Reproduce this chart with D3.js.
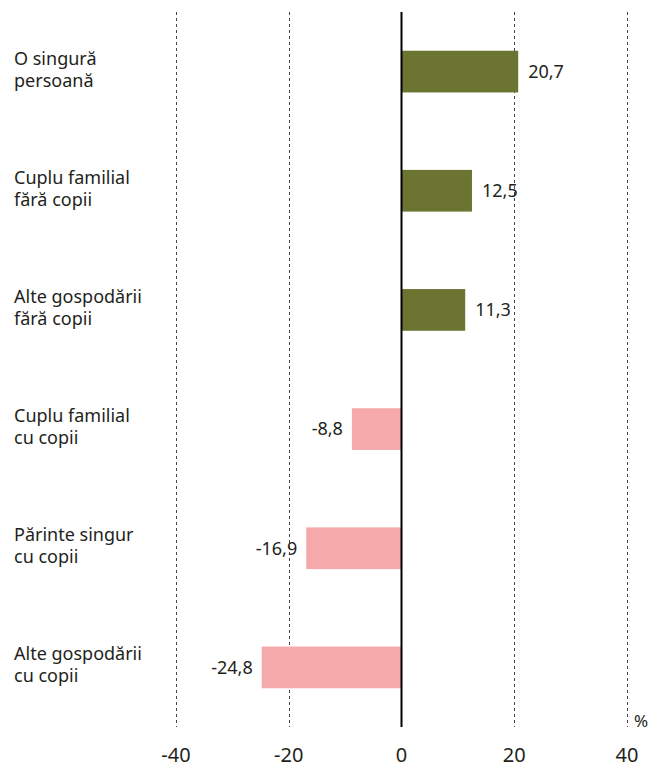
<!DOCTYPE html>
<html>
<head>
<meta charset="utf-8">
<script src="https://cdn.jsdelivr.net/npm/d3@7"></script>
<style>
  body { margin: 0; background: #fff; }
  text { font-family: "Noto Sans", "Open Sans", sans-serif; fill: #231f20; }
</style>
</head>
<body>
<div id="chart"></div>
<script>
// Chart data
const categories = [
  ["O singură", "persoană"],
  ["Cuplu familial", "fără copii"],
  ["Alte gospodării", "fără copii"],
  ["Cuplu familial", "cu copii"],
  ["Părinte singur", "cu copii"],
  ["Alte gospodării", "cu copii"]
];
const values = [20.7, 12.5, 11.3, -8.8, -16.9, -24.8];
const ticks = [-40, -20, 0, 20, 40];
const unitLabel = "%";

const width = 654
const height = 763

const svg = d3.select("#chart")
  .append("svg")
  .attr("width", width)
  .attr("height", height)

// Scales
const x = d3.scaleLinear()
  .domain([-40, 40])
  .range([176, 627])

const y = d3.scaleBand()
  .domain(d3.range(categories.length))
  .range([12, 727])
  .paddingInner(0.65)
  .paddingOuter(0.325)

// Romanian number format (comma as decimal, plain hyphen as minus)
const ro = d3.formatLocale({ decimal: ",", thousands: ".", grouping: [3], currency: ["", " lei"], minus: "-" })
const fmt = ro.format(".1f")
const tickFmt = ro.format("d")

// Dashed gridlines
svg.append("g")
  .selectAll("line")
  .data(ticks.filter(t => t !== 0))
  .enter()
  .append("line")
  .attr("x1", d => Math.round(x(d)) + 0.5)
  .attr("x2", d => Math.round(x(d)) + 0.5)
  .attr("y1", 12)
  .attr("y2", 727)
  .attr("stroke", "#444")
  .attr("stroke-width", 1)
  .attr("stroke-dasharray", "3,3")

// Bars
svg.append("g")
  .selectAll("rect")
  .data(values)
  .enter()
  .append("rect")
  .attr("x", d => x(Math.min(0, d)))
  .attr("y", (d, i) => y(i))
  .attr("width", d => Math.abs(x(d) - x(0)))
  .attr("height", y.bandwidth())
  .attr("fill", d => d >= 0 ? "#6b7430" : "#f6a9ab")

// Zero line
svg.append("line")
  .attr("x1", x(0))
  .attr("x2", x(0))
  .attr("y1", 12)
  .attr("y2", 727)
  .attr("stroke", "#000")
  .attr("stroke-width", 2)

// Value labels
svg.append("g")
  .selectAll("text")
  .data(values)
  .enter()
  .append("text")
  .attr("x", d => d >= 0 ? x(d) + 10 : x(d) - 9)
  .attr("y", (d, i) => y(i) + y.bandwidth() / 2)
  .attr("dy", "0.35em")
  .attr("text-anchor", d => d >= 0 ? "start" : "end")
  .style("font-size", "18px")
  .text(d => fmt(d))

// Category labels
const labels = svg.append("g")
  .selectAll("text")
  .data(categories)
  .enter()
  .append("text")
  .attr("x", 14)
  .attr("y", (d, i) => y(i) + y.bandwidth() / 2 - 7)
  .style("font-size", "18px")

labels.selectAll("tspan")
  .data(d => d)
  .enter()
  .append("tspan")
  .attr("x", 14)
  .attr("dy", (d, i) => i === 0 ? "0" : "22px")
  .text(d => d)

// X axis labels
svg.append("g")
  .selectAll("text")
  .data(ticks)
  .enter()
  .append("text")
  .attr("x", d => x(d))
  .attr("y", 762)
  .attr("text-anchor", "middle")
  .style("font-size", "20px")
  .text(d => tickFmt(d))

// Unit
svg.append("text")
  .attr("x", 634)
  .attr("y", 727)
  .style("font-size", "17px")
  .text(unitLabel)
</script>
</body>
</html>
